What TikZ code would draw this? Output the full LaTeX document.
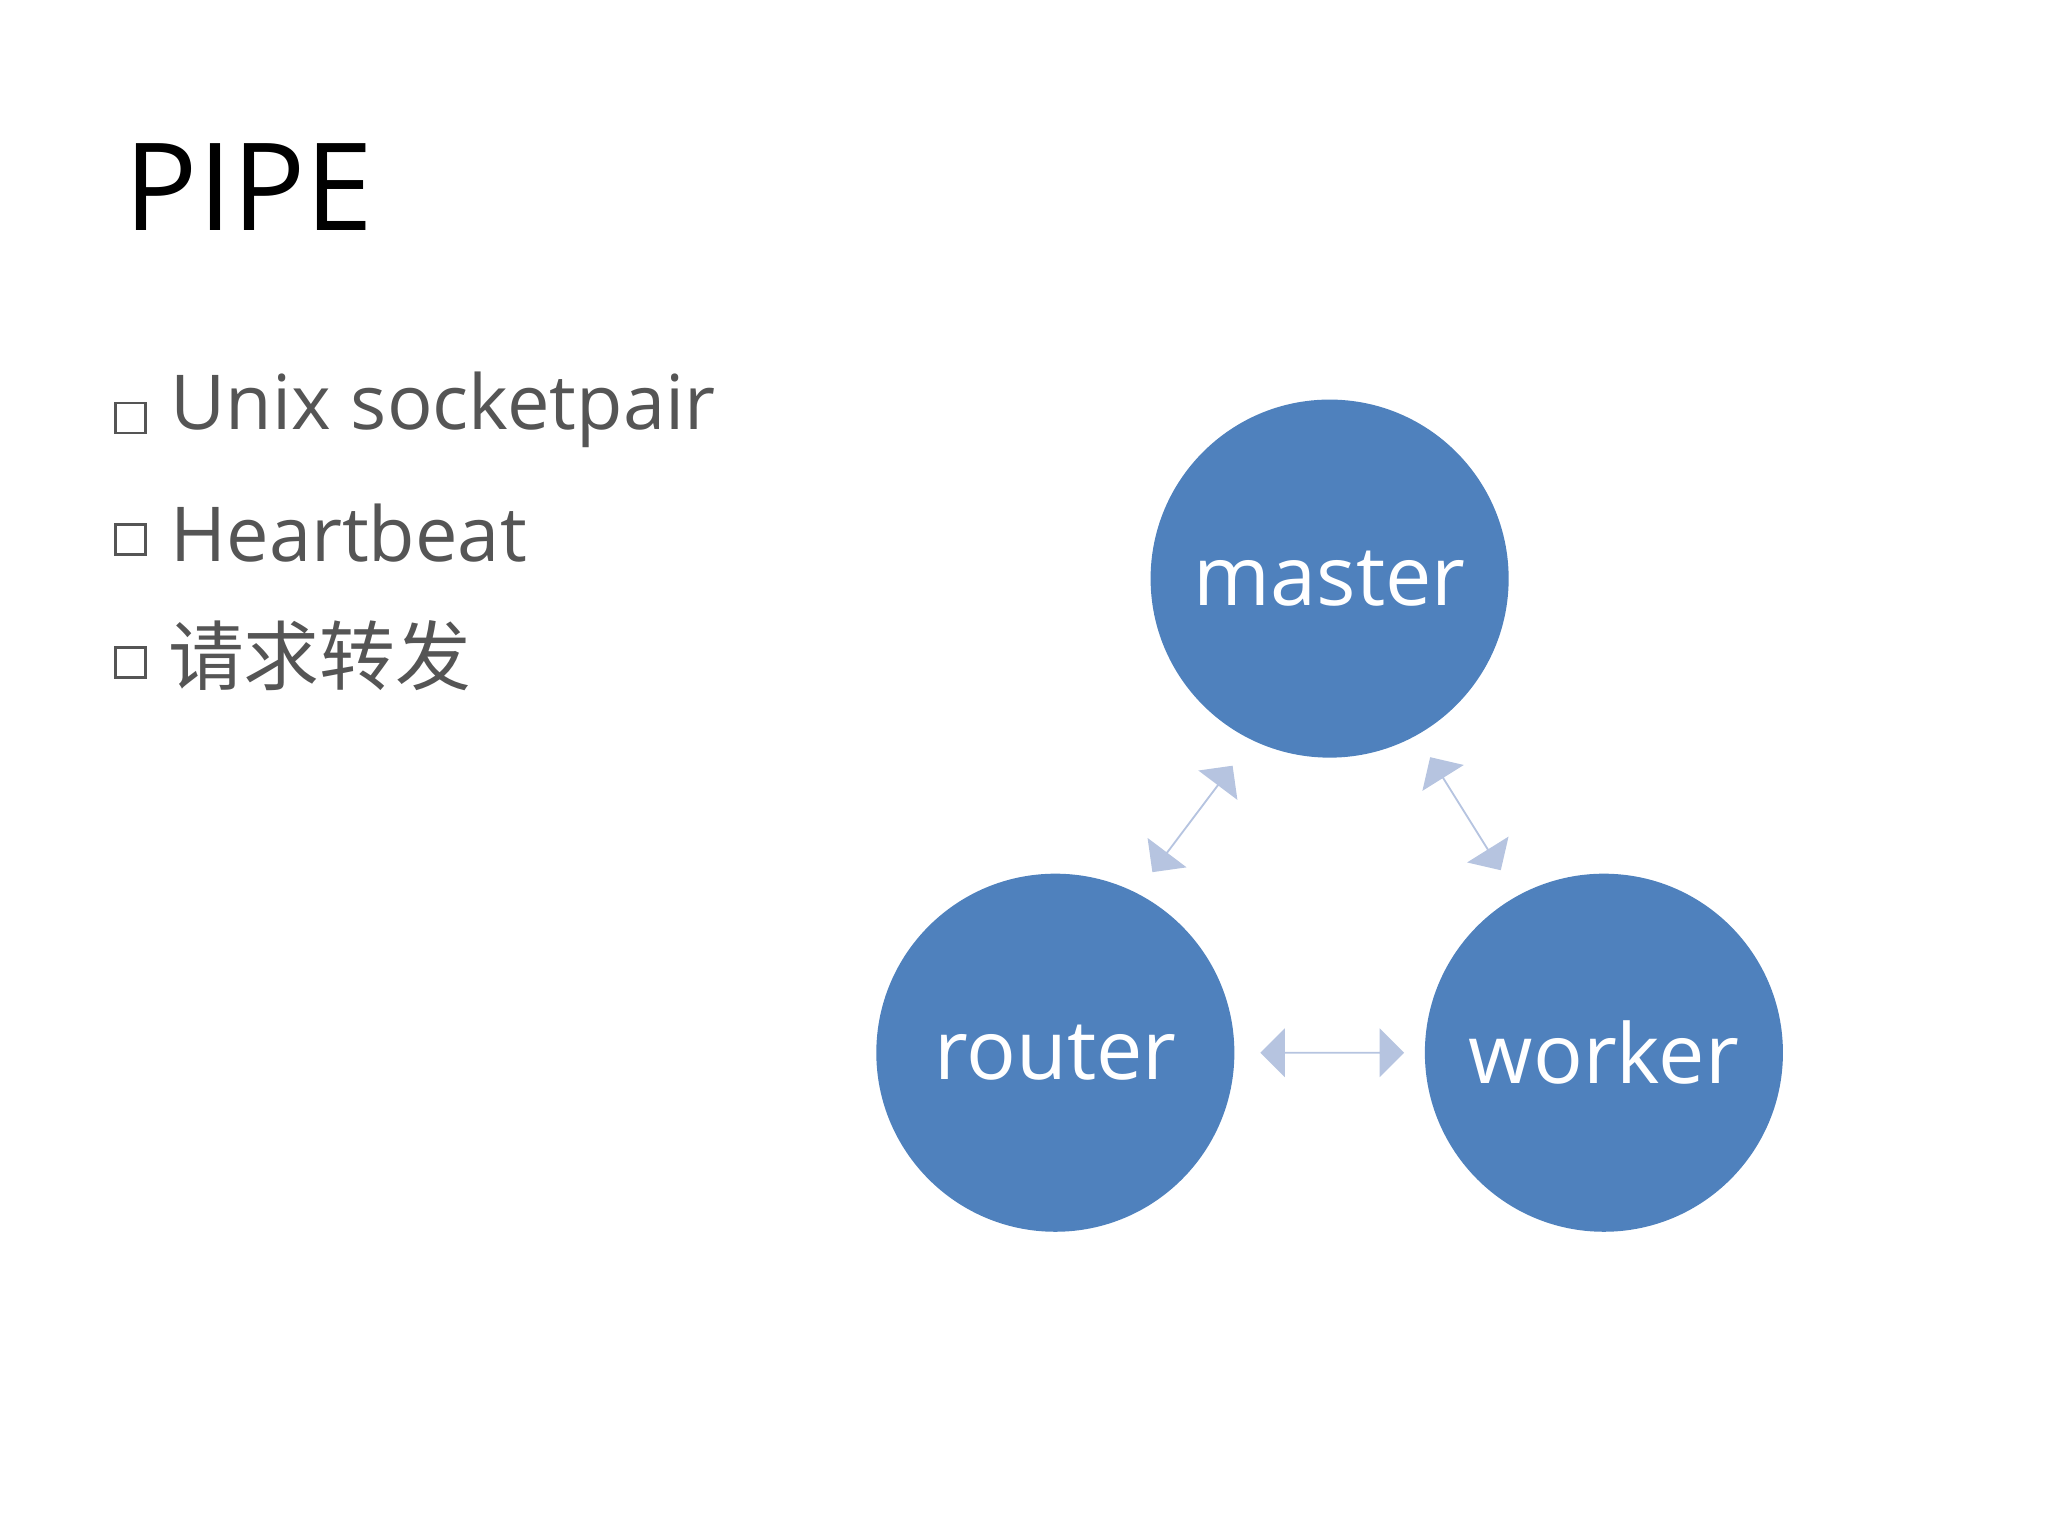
\documentclass[tikz,border=0pt]{standalone}
\usepackage{fontspec}
\setmainfont{Open Sans}
\newfontfamily\cjk{Noto Sans CJK SC}
\usetikzlibrary{shapes.arrows}
\definecolor{cblue}{RGB}{79,129,189}
\definecolor{carrow}{RGB}{182,196,224}
\definecolor{ctext}{RGB}{85,85,85}
\begin{document}
\begin{tikzpicture}[x=0.01cm,y=-0.01cm,
  circ/.style={circle,fill=cblue,minimum size=2.74cm,inner sep=0pt,text=white,font=\fontsize{18}{22}\selectfont},
  darrow/.style={double arrow,fill=carrow,minimum width=0.3cm,
     double arrow head extend=0.18cm,inner sep=0pt,anchor=center},
  bul/.style={anchor=west,text=ctext,font=\fontsize{16.5}{20}\selectfont,inner sep=0pt},
  box/.style={draw=ctext,line width=0.6pt,minimum size=0.23cm,inner sep=0pt}]
\useasboundingbox (0,0) rectangle (1568,1176);
\node[anchor=west,inner sep=0pt,font=\fontsize{26.5}{30}\selectfont] (title) at (95,143) {PIPE};
\node[box] (b1) at (100,320) {};
\node[box] (b2) at (100,413) {};
\node[box] (b3) at (100,507) {};
\node[bul] (t1) at (130,314) {Unix socketpair};
\node[bul] (t2) at (130,408) {Heartbeat};
\node[bul,font=\fontsize{16.5}{20}\selectfont\cjk] (t3) at (128,502) {请求转发};
\node[circ] (master) at (1018,443) {master};
\node[circ] (router) at (808,806) {router};
\node[circ] (worker) at (1228,806) {worker};
\node[darrow,minimum height=1.1cm] (a1) at (1020,806) {};
\node[darrow,minimum height=1.02cm,rotate=53] (a2) at (913,627) {};
\node[darrow,minimum height=1.02cm,rotate=-58] (a3) at (1122,623) {};
\end{tikzpicture}
\end{document}
